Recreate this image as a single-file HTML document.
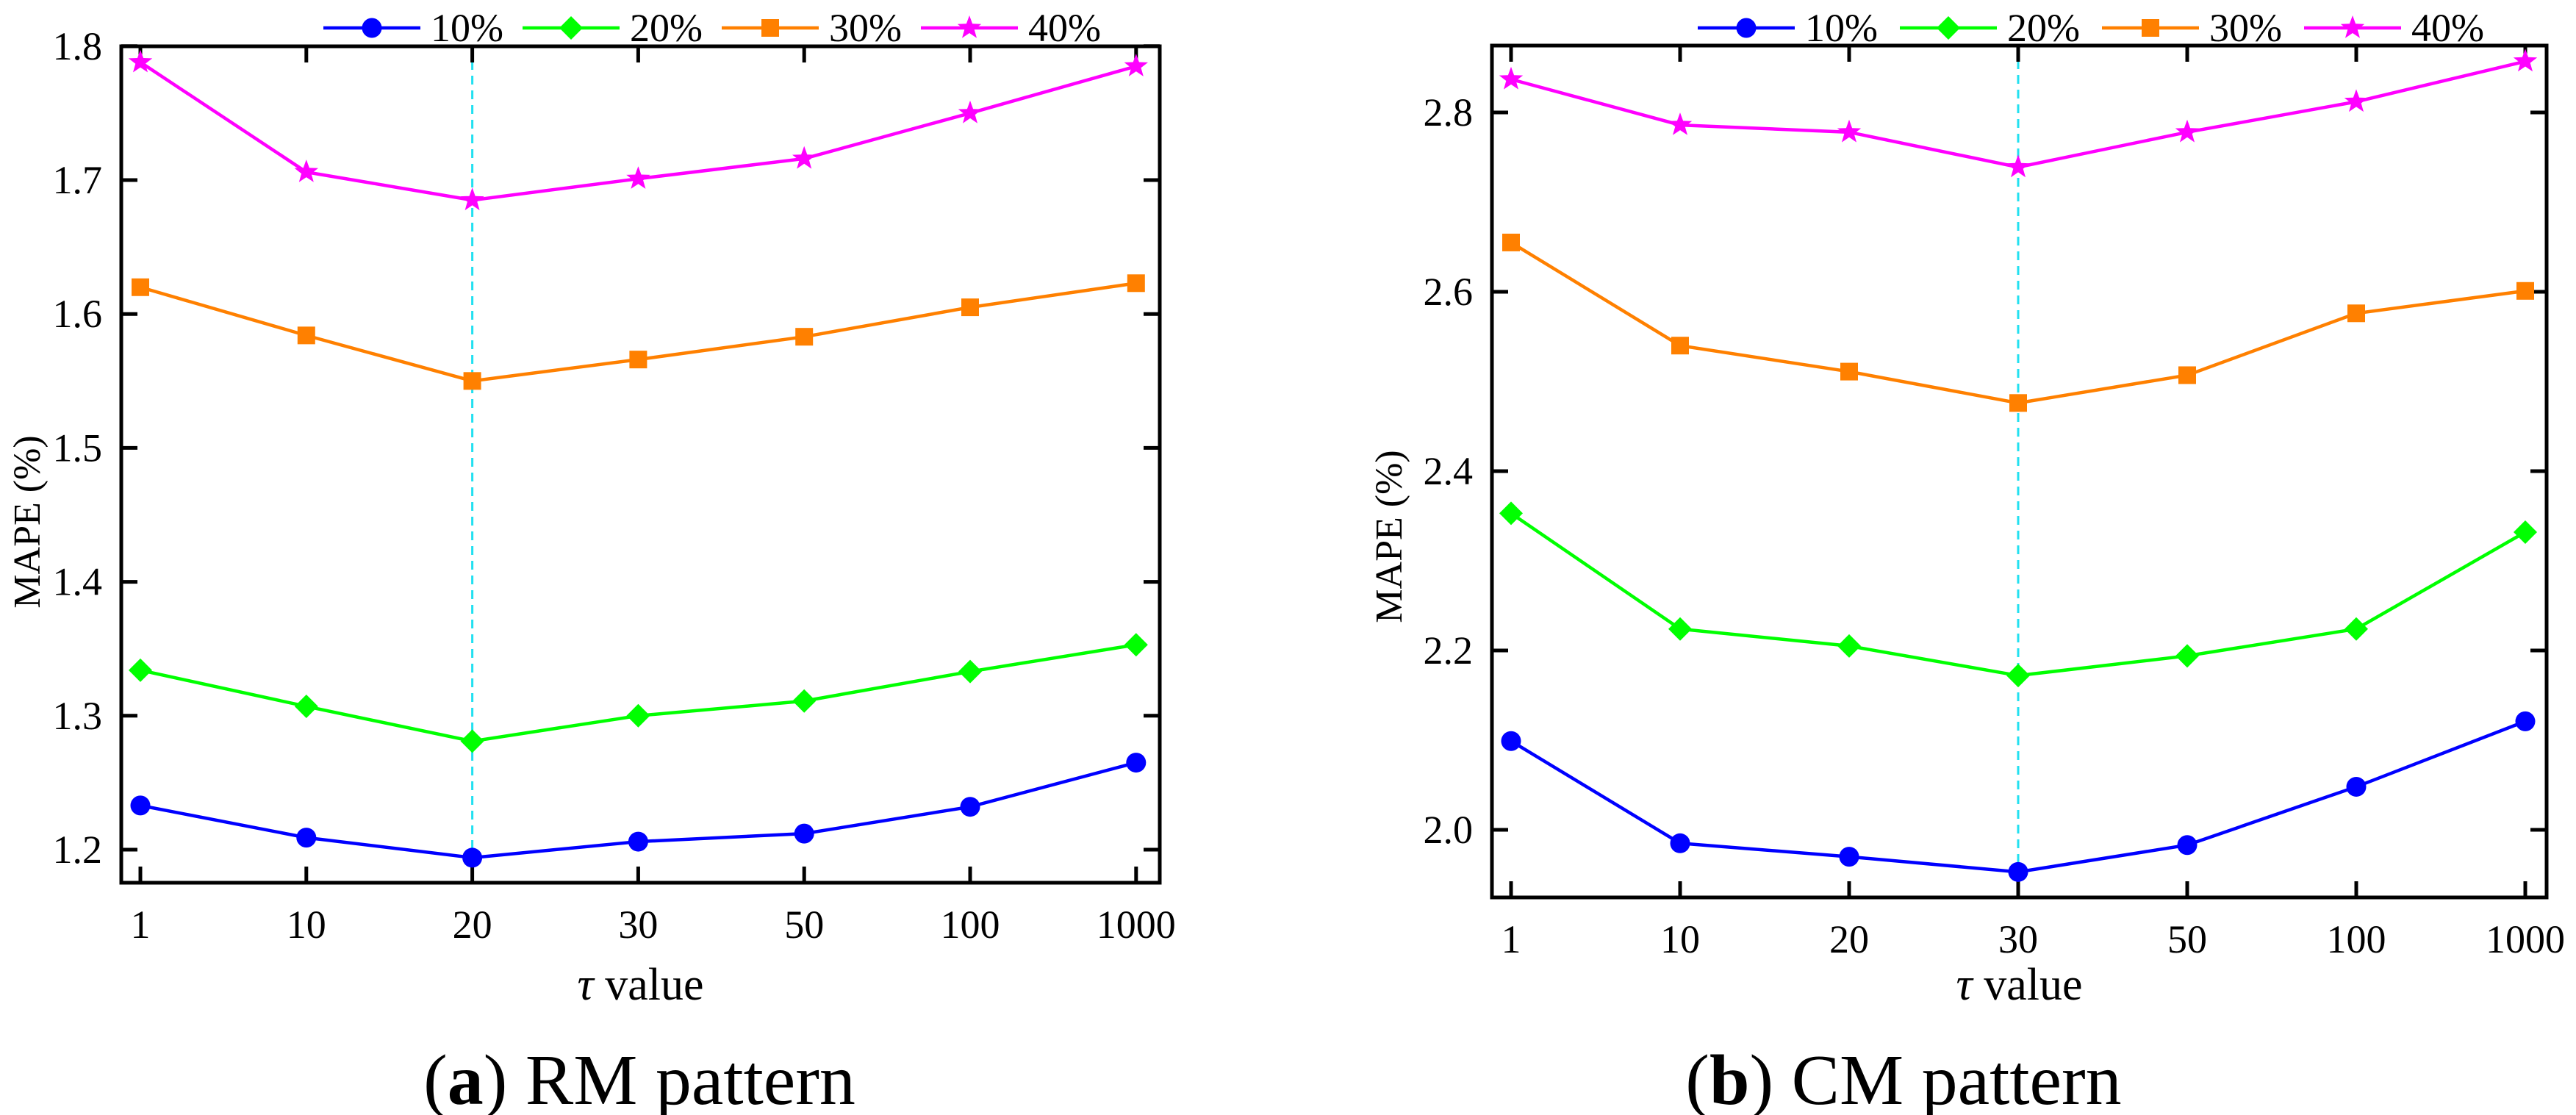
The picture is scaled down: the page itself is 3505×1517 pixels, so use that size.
<!DOCTYPE html>
<html><head><meta charset="utf-8"><style>
html,body{margin:0;padding:0;background:#fff;}
svg{display:block;font-family:"Liberation Serif",serif;}
</style></head><body>
<svg id="s" width="3505" height="1517" viewBox="0 0 3505 1517" xmlns="http://www.w3.org/2000/svg"></svg>
<script>
const categories = ["1","10","20","30","50","100","1000"];
const seriesNames = ["10%","20%","30%","40%"];
const rm10 = [1.233,1.209,1.194,1.206,1.212,1.232,1.265];
const rm20 = [1.334,1.307,1.281,1.300,1.311,1.333,1.353];
const rm30 = [1.620,1.584,1.550,1.566,1.583,1.605,1.623];
const rm40 = [1.788,1.706,1.685,1.701,1.716,1.750,1.785];
const cm10 = [2.099,1.985,1.970,1.953,1.983,2.048,2.121];
const cm20 = [2.353,2.224,2.205,2.172,2.194,2.224,2.332];
const cm30 = [2.655,2.540,2.511,2.476,2.507,2.576,2.601];
const cm40 = [2.837,2.786,2.778,2.739,2.778,2.812,2.857];
const rmTicks = ["1.2","1.3","1.4","1.5","1.6","1.7","1.8"];
const cmTicks = ["2.0","2.2","2.4","2.6","2.8"];
const rmBest = 2, cmBest = 3;

const NS="http://www.w3.org/2000/svg";
const svg=document.getElementById('s');
const colors=["#0000ff","#00ff00","#ff8000","#ff00ff"];
const markers=["circle","diamond","square","star"];
function mk(tag,attrs,parent){const e=document.createElementNS(NS,tag);for(const k in attrs)e.setAttribute(k,attrs[k]);(parent||svg).appendChild(e);return e;}
function marker(kind,x,y,c,g){
  let e;
  if(kind==="circle") e=mk('circle',{cx:x,cy:y,r:13.5,fill:c},g);
  else if(kind==="diamond") e=mk('polygon',{points:`${x},${y-16} ${x+16},${y} ${x},${y+16} ${x-16},${y}`,fill:c},g);
  else if(kind==="square") e=mk('rect',{x:x-12,y:y-12,width:24,height:24,fill:c},g);
  else {let p=[];for(let i=0;i<10;i++){const r=i%2?7:17,a=-Math.PI/2+i*Math.PI/5;p.push((x+r*Math.cos(a)).toFixed(1)+","+(y+r*Math.sin(a)).toFixed(1));}e=mk('polygon',{points:p.join(' '),fill:c},g);}
  return e;
}
function chart(o){
  const g=mk('g',{});
  
  
  const xs=i=>o.x1+i*o.step;
  const ys=v=>o.yRef+(o.vRef-v)*o.pxPer;
  const bl=mk('line',{x1:xs(o.best),x2:xs(o.best),y1:o.top,y2:o.bottom,stroke:"#22e0f0","stroke-width":3,"stroke-dasharray":"12,8"},g);
  
  
  const box=mk('rect',{x:o.left,y:o.top,width:o.right-o.left,height:o.bottom-o.top,fill:"none",stroke:"#000","stroke-width":5},g);
  
  
  categories.forEach((c,i)=>{
    const x=xs(i);
    mk('line',{x1:x,x2:x,y1:o.bottom,y2:o.bottom-22,stroke:"#000","stroke-width":5},g);
    mk('line',{x1:x,x2:x,y1:o.top,y2:o.top+22,stroke:"#000","stroke-width":5},g);
    const t=mk('text',{x:x,y:o.bottom+75,"text-anchor":"middle","font-size":54},g);
    t.textContent=c;
    
    
  });
  o.ticks.forEach(tk=>{
    const y=ys(parseFloat(tk));
    mk('line',{x1:o.left,x2:o.left+22,y1:y,y2:y,stroke:"#000","stroke-width":5},g);
    mk('line',{x1:o.right,x2:o.right-22,y1:y,y2:y,stroke:"#000","stroke-width":5},g);
    const t=mk('text',{x:o.left-26,y:y+18,"text-anchor":"end","font-size":54},g);
    t.textContent=tk;
    
    
  });
  o.series.forEach((d,si)=>{
    const pl=mk('polyline',{points:d.map((v,i)=>xs(i)+","+ys(v)).join(' '),fill:"none",stroke:colors[si],"stroke-width":4.5},g);
    
    
    d.forEach((v,i)=>{
      const m=marker(markers[si],xs(i),ys(v),colors[si],g);
      
      
    });
  });
  seriesNames.forEach((n,si)=>{
    const lx=o.legX+si*o.legStep, ly=38;
    const lg=mk('g',{},g);
    
    
    mk('line',{x1:lx,x2:lx+132,y1:ly,y2:ly,stroke:colors[si],"stroke-width":4.5},lg);
    marker(markers[si],lx+66,ly,colors[si],lg);
    const t=mk('text',{x:lx+146,y:ly+18,"font-size":54},lg);
    t.textContent=n;
  });
  const yt=mk('text',{x:o.yTitleX,y:o.yTitleY,"text-anchor":"middle","font-size":52,transform:`rotate(-90 ${o.yTitleX} ${o.yTitleY})`},g);
  yt.textContent="MAPE (%)";
  
  
  const xt=mk('text',{x:(o.left+o.right)/2,y:1360,"text-anchor":"middle","font-size":62},g);
  xt.innerHTML='<tspan font-style="italic">τ</tspan> value';
  
  
  const cap=mk('text',{x:o.capX,y:1502,"text-anchor":"middle","font-size":98},g);
  cap.innerHTML='(<tspan font-weight="bold">'+o.letter+'</tspan>) '+o.capText;
  
  
}
chart({name:'rm-pattern-chart',left:165,right:1578,top:63,bottom:1201,x1:191,step:225.8,yRef:1156,vRef:1.2,pxPer:1822,
  ticks:rmTicks,series:[rm10,rm20,rm30,rm40],best:rmBest,legX:440,legStep:271,yTitleX:54,yTitleY:710,capX:870,letter:'a',capText:'RM pattern'});
chart({name:'cm-pattern-chart',left:2030,right:3465,top:62,bottom:1221,x1:2056,step:230,yRef:1129,vRef:2.0,pxPer:1220,
  ticks:cmTicks,series:[cm10,cm20,cm30,cm40],best:cmBest,legX:2310,legStep:275,yTitleX:1907,yTitleY:730,capX:2590,letter:'b',capText:'CM pattern'});
</script>
</body></html>
